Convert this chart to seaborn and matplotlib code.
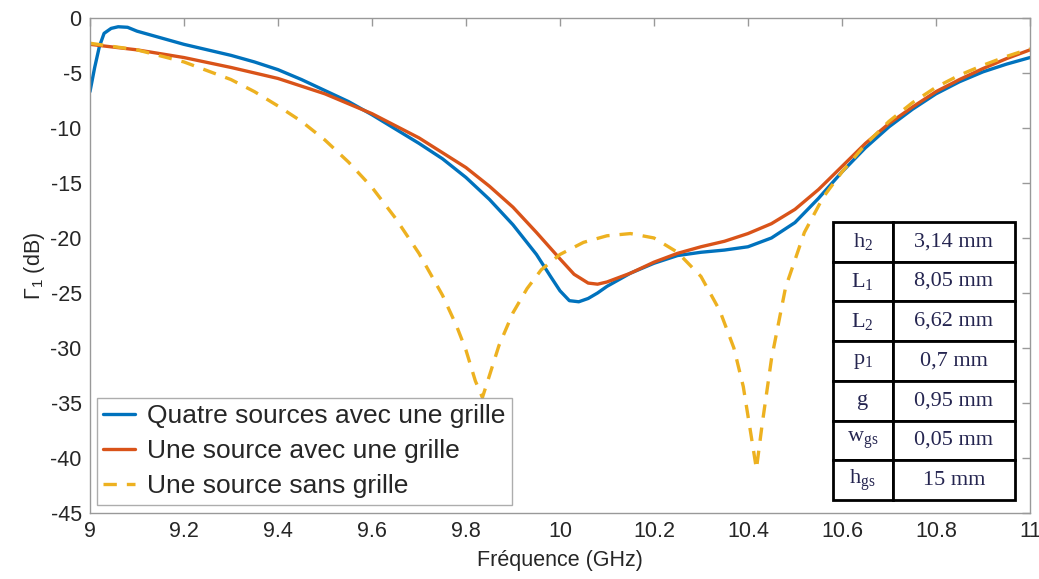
import numpy as np
import pandas as pd
import seaborn as sns
import matplotlib.pyplot as plt

########## Data ##########
freq_quatre = [9.0, 9.01, 9.02, 9.03, 9.045, 9.06, 9.08, 9.1, 9.15, 9.2, 9.25, 9.3, 9.35, 9.4,
               9.45, 9.5, 9.55, 9.6, 9.65, 9.7, 9.75, 9.8, 9.85, 9.9, 9.95, 9.98, 10.0, 10.02,
               10.04, 10.06, 10.08, 10.1, 10.15, 10.2, 10.25, 10.3, 10.35, 10.4, 10.45, 10.5,
               10.55, 10.6, 10.65, 10.7, 10.75, 10.8, 10.85, 10.9, 10.95, 11.0]
gamma_quatre = [-6.7, -4.5, -2.6, -1.4, -0.95, -0.8, -0.85, -1.2, -1.8, -2.4, -2.9, -3.4, -4.0, -4.7,
                -5.6, -6.6, -7.6, -8.8, -10.1, -11.4, -12.8, -14.5, -16.5, -18.8, -21.5, -23.5, -24.8, -25.7,
                -25.8, -25.5, -25.0, -24.4, -23.2, -22.3, -21.6, -21.3, -21.1, -20.8, -20.0, -18.6,
                -16.4, -14.0, -11.8, -9.9, -8.3, -6.9, -5.8, -4.9, -4.2, -3.6]

freq_une = [9.0, 9.1, 9.2, 9.3, 9.4, 9.5, 9.6, 9.7, 9.8, 9.85, 9.9, 9.95, 10.0, 10.03, 10.06,
            10.08, 10.1, 10.15, 10.2, 10.25, 10.3, 10.35, 10.4, 10.45, 10.5, 10.55, 10.6, 10.65,
            10.7, 10.75, 10.8, 10.85, 10.9, 10.95, 11.0]
gamma_une = [-2.4, -2.9, -3.6, -4.5, -5.5, -6.9, -8.7, -10.9, -13.6, -15.3, -17.2, -19.5, -21.9, -23.3, -24.1,
             -24.2, -24.0, -23.2, -22.2, -21.4, -20.8, -20.3, -19.6, -18.7, -17.4, -15.6, -13.5, -11.4,
             -9.6, -8.1, -6.7, -5.6, -4.6, -3.7, -2.9]

freq_sans = [9.0, 9.1, 9.2, 9.3, 9.35, 9.4, 9.45, 9.5, 9.55, 9.6, 9.65, 9.7, 9.75, 9.78, 9.8, 9.82,
             9.835, 9.85, 9.87, 9.9, 9.93, 9.96, 10.0, 10.05, 10.1, 10.15, 10.2, 10.25, 10.3, 10.34,
             10.37, 10.39, 10.405, 10.418, 10.43, 10.45, 10.48, 10.52, 10.56, 10.6, 10.65, 10.7,
             10.75, 10.8, 10.85, 10.9, 10.95, 11.0]
gamma_sans = [-2.3, -2.9, -4.0, -5.6, -6.7, -8.0, -9.4, -11.1, -13.1, -15.4, -18.2, -21.4, -25.2, -28.0, -30.2, -33.0,
              -34.5, -32.5, -29.8, -26.8, -24.6, -22.9, -21.5, -20.4, -19.8, -19.6, -20.0, -21.3, -23.5, -26.6,
              -30.0, -33.5, -37.5, -41.0, -37.0, -31.0, -24.5, -19.5, -16.3, -14.0, -11.5, -9.4,
              -7.7, -6.3, -5.2, -4.3, -3.5, -2.8]

labels = ['Quatre sources avec une grille', 'Une source avec une grille', 'Une source sans grille']
colors = ['#0072BD', '#D95319', '#EDB120']

param_names = [r'$\mathregular{h_2}$', r'$\mathregular{L_1}$', r'$\mathregular{L_2}$', r'$\mathregular{p_1}$',
               'g', r'$\mathregular{w_{gs}}$', r'$\mathregular{h_{gs}}$']
param_values = ['3,14 mm', '8,05 mm', '6,62 mm', '0,7 mm', '0,95 mm', '0,05 mm', '15 mm']

########## Style ##########
sns.set_style('white')
plt.rcParams['font.family'] = ['Liberation Sans', 'DejaVu Sans']
plt.rcParams['axes.unicode_minus'] = False

fig = plt.figure(figsize=(10.39, 5.79), dpi=100)
ax = fig.add_axes([0.0866, 0.114, 0.9047, 0.855])

# Curves
sns.lineplot(x=freq_quatre, y=gamma_quatre, ax=ax, color=colors[0], lw=2.4,
             sort=False, estimator=None, label=labels[0])
sns.lineplot(x=freq_une, y=gamma_une, ax=ax, color=colors[1], lw=2.4,
             sort=False, estimator=None, label=labels[1])
sns.lineplot(x=freq_sans, y=gamma_sans, ax=ax, color=colors[2], lw=2.4,
             sort=False, estimator=None, label=labels[2])
ax.lines[2].set_linestyle((0, (4, 3)))

ax.set_xlim(9, 11)
ax.set_ylim(-45, 0)
ax.set_xticks(np.arange(9, 11.01, 0.2))
ax.set_xticklabels(['9', '9.2', '9.4', '9.6', '9.8', '10', '10.2', '10.4', '10.6', '10.8', '11'])
ax.set_yticks(np.arange(-45, 0.1, 5))
ax.tick_params(direction='in', length=6, width=1, color='#999999', top=True, right=True,
               labelsize=15.5, labelcolor='#262626', pad=6)
for s in ax.spines.values():
    s.set_color('#999999')
    s.set_linewidth(1)

ax.set_xlabel('Fréquence (GHz)', fontsize=15.5, color='#262626', labelpad=4)
ax.set_ylabel(r'$\mathregular{\Gamma_1}$ (dB)', fontsize=15.5, color='#262626', labelpad=2)
ax.xaxis.set_label_coords(0.5, -0.075)

# Legend
leg = ax.legend(loc='lower left', bbox_to_anchor=(0.007, 0.016), fontsize=19, frameon=True,
                fancybox=False, edgecolor='#999999', handlelength=1.2, handletextpad=0.45,
                borderpad=0.25, labelspacing=0.42, borderaxespad=0)
leg.get_frame().set_linewidth(1)
leg.legend_handles[2].set_linestyle((0, (4, 3)))

# Parameter table
tab = ax.table(cellText=[[n, v] for n, v in zip(param_names, param_values)],
               colWidths=[0.33, 0.67], cellLoc='center',
               bbox=[0.79, 0.026, 0.194, 0.562])
tab.auto_set_font_size(False)
for (r, c), cell in tab.get_celld().items():
    cell.set_edgecolor('black')
    cell.set_linewidth(2)
    cell.set_facecolor('white')
    cell.get_text().set_fontsize(16)
    cell.get_text().set_fontfamily('Liberation Serif')
    cell.get_text().set_color('#252550')

plt.savefig('out.png', dpi=100)
